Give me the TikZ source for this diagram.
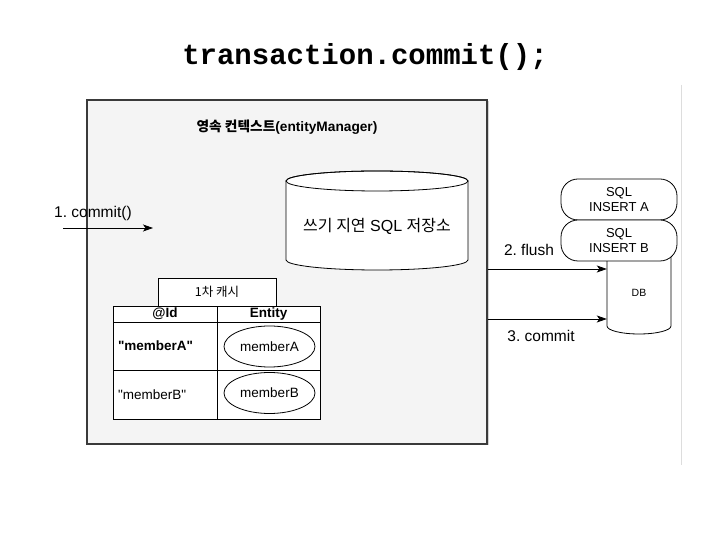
\documentclass[tikz,border=0pt]{standalone}
\usepackage{fontspec}
\setmainfont{Liberation Sans}
\setmonofont{Liberation Mono}
\newfontfamily\kr{Noto Sans CJK KR}
\usetikzlibrary{shapes.geometric,arrows.meta,shadows}
\frenchspacing
\definecolor{ctxfill}{HTML}{F4F4F4}
\definecolor{ctxline}{HTML}{3A3A3A}
\definecolor{sidegray}{HTML}{DDDDDD}
\tikzstyle{ctxbox} = [draw=ctxline, fill=ctxfill, line width=1.3pt, rectangle,
    inner sep=0, minimum width=400, minimum height=344,
    drop shadow={shadow xshift=1.5pt, shadow yshift=-1.5pt, opacity=.35}]
\tikzstyle{codetitle} = [font=\ttfamily\bfseries\fontsize{29}{32}\selectfont]
\tikzstyle{lbl} = [font=\fontsize{15.5}{18}\selectfont, inner sep=0]
\tikzstyle{cell} = [draw, line width=0.8pt, rectangle, inner sep=0,
    font=\fontsize{13.5}{16}\selectfont]
\tikzstyle{idcell} = [text width=94, align=left, inner xsep=5pt]
\tikzstyle{entity} = [draw, line width=0.8pt, ellipse, inner sep=0,
    minimum width=91, minimum height=41, font=\fontsize{13.5}{16}\selectfont]
\tikzstyle{pill} = [draw, fill=white, line width=0.8pt, rectangle,
    rounded corners=17, inner sep=0, minimum width=116, minimum height=41,
    align=center, font=\fontsize{13}{15.5}\selectfont]
\tikzstyle{arr} = [line width=0.8pt, -{Stealth[length=10pt, width=7pt, inset=2.5pt]}]

\begin{document}
\begin{tikzpicture}[x=1pt, y=1pt]
\useasboundingbox (0,0) rectangle (728,546);
\node[codetitle] (title) at (365,489) {transaction.commit();};
\draw[sidegray, line width=0.8pt] (681,461) -- (681,81);

% persistence context
\node[ctxbox] (box) at (287,274) {};
\node[font=\bfseries\fontsize{13.7}{15}\selectfont] (ctx) at (287,419) {{\kr 영속 컨텍스트}(entityManager)};

% write-behind store
\draw[fill=white, line width=0.8pt] (286,365) -- (286,286)
    arc[start angle=180, end angle=360, x radius=91, y radius=10] -- (468,365)
    arc[start angle=0, end angle=180, x radius=91, y radius=10];
\draw[line width=0.8pt] (377,365) ellipse [x radius=91, y radius=10];
\node[font=\fontsize{16}{18}\selectfont] (store) at (377,320) {{\kr 쓰기 지연} SQL {\kr 저장소}};

% 1. commit
\coordinate (cin) at (63,318);
\coordinate (cout) at (153,318);
\draw[arr] (cin) -- (cout);
\node[lbl, anchor=west] (commit1) at (54,333) {1. commit()};

% first level cache
\node[cell, fill=white, minimum width=118, minimum height=28,
    font=\kr\fontsize{12.5}{14}\selectfont] (cache) at (217,254) {1차 캐시};
\node[cell, fill=white, minimum width=104, minimum height=16] (idh) at (165,232) {\bfseries @Id};
\node[cell, fill=white, minimum width=103, minimum height=16] (enth) at (268.5,232) {\bfseries Entity};
\node[cell, fill=white, idcell, minimum height=48] (id1) at (165,200) {\bfseries\textquotedbl memberA\textquotedbl};
\node[cell, fill=white, minimum width=103, minimum height=48] (en1) at (268.5,200) {};
\node[cell, fill=white, idcell, minimum height=49] (id2) at (165,151.5) {\textquotedbl memberB\textquotedbl};
\node[cell, fill=white, minimum width=103, minimum height=49] (en2) at (268.5,151.5) {};
\node[entity] (ma) at (269.5,199.5) {memberA};
\node[entity] (mb) at (269.5,153) {memberB};

% database
\draw[fill=white, line width=0.8pt] (607,296) -- (607,220)
    arc[start angle=180, end angle=360, x radius=32, y radius=8] -- (671,296);
\node[font=\fontsize{10.5}{12}\selectfont, minimum width=64, minimum height=60] (db) at (639,253) {DB};
\node[pill] (insa) at (619,346.5) {SQL\\INSERT A};
\node[pill] (insb) at (619,305.5) {SQL\\INSERT B};

% flush and commit
\draw[arr] (box.east |- 0,277) -- (db.west |- 0,277);
\node[lbl] (flush) at (529,296) {2. flush};
\draw[arr] (box.east |- 0,227) -- (db.west |- 0,227);
\node[lbl] (commit3) at (541,210) {3. commit};
\end{tikzpicture}
\end{document}
